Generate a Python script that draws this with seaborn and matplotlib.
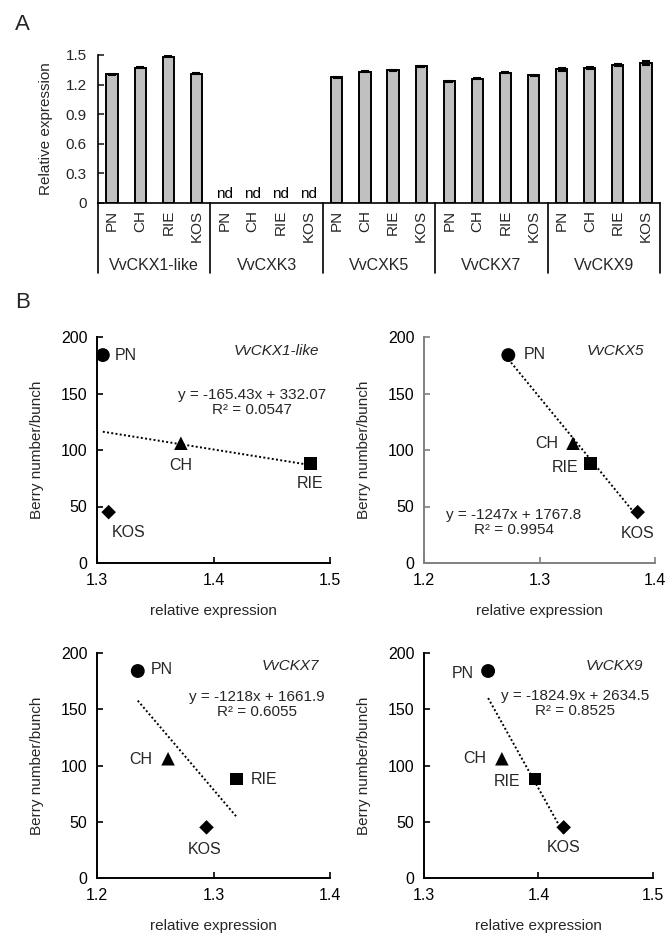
import numpy as np
import pandas as pd
import matplotlib
matplotlib.use("Agg")
import matplotlib.pyplot as plt
import seaborn as sns
from matplotlib.transforms import blended_transform_factory

# ---------------- data ----------------
genes = ["VvCKX1-like", "VvCXK3", "VvCXK5", "VvCKX7", "VvCKX9"]
samples = ["PN", "CH", "RIE", "KOS"]
expr_ckx1 = [1.305, 1.372, 1.483, 1.310]
expr_cxk3 = [np.nan, np.nan, np.nan, np.nan]  # nd
expr_cxk5 = [1.273, 1.329, 1.344, 1.385]
expr_ckx7 = [1.235, 1.261, 1.320, 1.294]
expr_ckx9 = [1.356, 1.368, 1.397, 1.422]
err_ckx1 = [0.005, 0.006, 0.007, 0.005]
err_cxk3 = [np.nan, np.nan, np.nan, np.nan]
err_cxk5 = [0.004, 0.006, 0.005, 0.008]
err_ckx7 = [0.004, 0.004, 0.005, 0.004]
err_ckx9 = [0.016, 0.012, 0.009, 0.022]
y_ticks_a = [0, 0.3, 0.6, 0.9, 1.2, 1.5]
y_ticklabels_a = ["0", "0.3", "0.6", "0.9", "1.2", "1.5"]

berry = [184, 106, 88, 45]
scatter_titles = ["VvCKX1-like", "VvCKX5", "VvCKX7", "VvCKX9"]
scatter_expr = [expr_ckx1, expr_cxk5, expr_ckx7, expr_ckx9]
slopes = [-165.43, -1247, -1218, -1824.9]
intercepts = [332.07, 1767.8, 1661.9, 2634.5]
eq_texts = ["y = -165.43x + 332.07", "y = -1247x + 1767.8",
            "y = -1218x + 1661.9", "y = -1824.9x + 2634.5"]
r2_texts = ["R² = 0.0547", "R² = 0.9954", "R² = 0.6055", "R² = 0.8525"]
x_ticks_sc = [[1.3, 1.4, 1.5], [1.2, 1.3, 1.4], [1.2, 1.3, 1.4], [1.3, 1.4, 1.5]]
y_ticks_sc = [0, 50, 100, 150, 200]

# ---------------- style / layout ----------------
sns.set_theme(style="white")
plt.rcParams["font.family"] = ["Liberation Sans", "DejaVu Sans"]
plt.rcParams["axes.linewidth"] = 1.2

W, H = 667, 936
fig = plt.figure(figsize=(W / 100, H / 100), dpi=100)

def px_axes(x0, y0, x1, y1):
    return fig.add_axes([x0 / W, 1 - y1 / H, (x1 - x0) / W, (y1 - y0) / H])

# ---------- Panel A ----------
axA = px_axes(98, 55, 660, 203)
all_expr = [expr_ckx1, expr_cxk3, expr_cxk5, expr_ckx7, expr_ckx9]
all_err = [err_ckx1, err_cxk3, err_cxk5, err_ckx7, err_ckx9]
rows = []
for g, ev, er in zip(genes, all_expr, all_err):
    for s, v, e in zip(samples, ev, er):
        rows.append({"bar": f"{g}|{s}", "gene": g, "sample": s, "value": v, "err": e})
dfA = pd.DataFrame(rows)
order = list(dfA["bar"])
sns.barplot(data=dfA, x="bar", y="value", order=order, color="#c0c0c0",
            edgecolor="black", linewidth=1.4, width=0.40, saturation=1,
            errorbar=None, ax=axA)
xpos = np.arange(len(dfA))
mask = dfA["value"].notna().values
axA.errorbar(xpos[mask], dfA["value"].values[mask], yerr=dfA["err"].values[mask],
             fmt="none", ecolor="black", elinewidth=1.2, capsize=3, capthick=1.5)
for i in xpos[~mask]:
    axA.text(i, 0.02, "nd", ha="center", va="bottom", fontsize=11, color="black")
axA.set_xlim(-0.5, len(dfA) - 0.5)
axA.set_ylim(0, 1.5)
axA.set_yticks(y_ticks_a)
axA.set_yticklabels(y_ticklabels_a)
axA.set_xticks(xpos)
axA.set_xticklabels(list(dfA["sample"]), rotation=90, fontsize=11)
axA.tick_params(axis="x", length=0, pad=5)
axA.tick_params(axis="y", direction="in", length=4, width=1.2, labelsize=11, pad=8, left=True)
axA.set_xlabel("")
axA.set_ylabel("Relative expression", fontsize=11, labelpad=9)
for sp in ["top", "right"]:
    axA.spines[sp].set_visible(False)
for sp in ["left", "bottom"]:
    axA.spines[sp].set_color("black")
trA = blended_transform_factory(axA.transData, axA.transAxes)
n = len(samples)
for k in range(len(genes) + 1):
    xb = k * n - 0.5
    axA.plot([xb, xb], [0, -0.475], color="black", lw=1.2, transform=trA, clip_on=False)
for k, g in enumerate(genes):
    axA.text(k * n + (n - 1) / 2, -0.42, g, ha="center", va="center", fontsize=11.5,
             transform=trA)

fig.text(22 / W, 1 - 24 / H, "A", fontsize=16, ha="center", va="center")
fig.text(23 / W, 1 - 303 / H, "B", fontsize=16, ha="center", va="center")

# ---------- Panel B ----------
boxes = [(97, 337, 330, 563), (424, 337, 655, 563), (97, 653, 330, 878), (424, 653, 653, 878)]
spine_colors = ["black", "#808080", "black", "black"]
markers = {"PN": "o", "CH": "^", "RIE": "s", "KOS": "D"}
msizes = {"PN": 100, "CH": 95, "RIE": 85, "KOS": 55}
# label offsets in pixels (dx, dy) and alignment for each sample label
label_style = [
    {"PN": (12, 0, "left"), "CH": (0, -22, "center"), "RIE": (0, -20, "center"), "KOS": (20, -20, "center")},
    {"PN": (15, 1, "left"), "CH": (-15, 0, "right"), "RIE": (-12, -4, "right"), "KOS": (0, -21, "center")},
    {"PN": (13, 1, "left"), "CH": (-16, -1, "right"), "RIE": (14, 0, "left"), "KOS": (-2, -22, "center")},
    {"PN": (-14, -2, "right"), "CH": (-16, 0, "right"), "RIE": (-15, -2, "right"), "KOS": (0, -20, "center")},
]
title_pos = [(0.77, 0.94), (0.83, 0.94), (0.83, 0.94), (0.83, 0.94)]
eq_pos = [(0.665, 0.71), (0.39, 0.18), (0.685, 0.77), (0.66, 0.775)]

for i in range(4):
    ax = px_axes(*boxes[i])
    df = pd.DataFrame({"expr": scatter_expr[i], "berry": berry, "sample": samples})
    sns.scatterplot(data=df, x="expr", y="berry", style="sample", markers=markers,
                    size="sample", sizes=msizes, color="black", edgecolor="black",
                    linewidth=0, legend=False, ax=ax, zorder=3)
    xs = np.array([min(scatter_expr[i]), max(scatter_expr[i])])
    ax.plot(xs, slopes[i] * xs + intercepts[i], color="black", lw=1.4,
            linestyle=(0, (1, 1.2)), zorder=2)
    for s, xv, yv in zip(samples, scatter_expr[i], berry):
        dx, dy, ha = label_style[i][s]
        ax.annotate(s, (xv, yv), xytext=(dx, dy), textcoords="offset pixels",
                    ha=ha, va="center", fontsize=11.5)
    ax.text(*title_pos[i], scatter_titles[i], transform=ax.transAxes, ha="center",
            va="center", fontsize=11, style="italic")
    ax.text(eq_pos[i][0], eq_pos[i][1], eq_texts[i] + "\n" + r2_texts[i],
            transform=ax.transAxes, ha="center", va="center", fontsize=11,
            linespacing=1.05)
    ax.set_xlim(x_ticks_sc[i][0], x_ticks_sc[i][-1])
    ax.set_ylim(0, 200)
    ax.set_xticks(x_ticks_sc[i])
    ax.set_xticklabels([f"{t:.1f}" for t in x_ticks_sc[i]])
    ax.set_yticks(y_ticks_sc)
    ax.tick_params(direction="in", length=4, width=1.2, labelsize=11.5, pad=7,
                   bottom=True, left=True, colors=spine_colors[i], labelcolor="black")
    ax.set_xlabel("relative expression", fontsize=11, labelpad=12)
    ax.set_ylabel("Berry number/bunch", fontsize=11, labelpad=12)
    for sp in ["top", "right"]:
        ax.spines[sp].set_visible(False)
    for sp in ["left", "bottom"]:
        ax.spines[sp].set_color(spine_colors[i])
        ax.spines[sp].set_linewidth(1.4)

fig.savefig("out.png", dpi=100, facecolor="white")
